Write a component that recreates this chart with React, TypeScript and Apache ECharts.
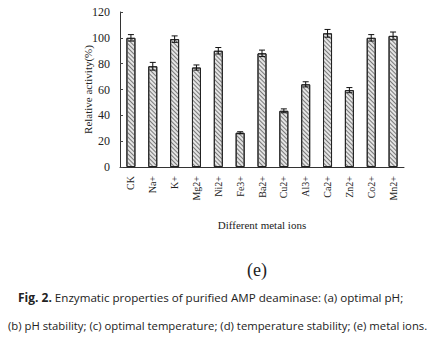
import React, { useEffect, useRef } from "react";
import * as echarts from "echarts";

const categories = ["CK", "Na+", "K+", "Mg2+", "Ni2+", "Fe3+", "Ba2+", "Cu2+", "Al3+", "Ca2+", "Zn2+", "Co2+", "Mn2+"];
const values = [100, 78, 99, 77, 90, 26.5, 88, 43.5, 64, 103.5, 59.5, 100, 101.5];
const errors = [2.5, 3, 2.5, 2, 2.5, 0.8, 2.5, 1.5, 2, 3, 2, 2.5, 3];
const yTicks = [0, 20, 40, 60, 80, 100, 120];

export default function App() {
  const ref = useRef<HTMLDivElement>(null);
  useEffect(() => {
    const chart = echarts.init(ref.current!, null, { renderer: "svg" });
    const serif = "Liberation Serif";
    chart.setOption({
      animation: false,
      backgroundColor: "#fff",
      grid: { left: 120, right: 32, top: 12, bottom: 183 },
      xAxis: {
        type: "category",
        data: categories,
        name: "Different metal ions",
        nameLocation: "middle",
        nameGap: 52,
        nameMoveOverlap: false,
        nameTextStyle: { fontFamily: serif, fontSize: 11, color: "#222" },
        axisLine: { lineStyle: { color: "#333", width: 1 } },
        axisTick: { inside: true, length: 3, lineStyle: { color: "#444" } },
        axisLabel: {
          rotate: 90,
          fontFamily: serif,
          fontSize: 10,
          color: "#222",
          margin: 9,
        },
      },
      yAxis: {
        type: "value",
        min: 0,
        max: yTicks[yTicks.length - 1],
        interval: 20,
        name: "Relative activity(%)",
        nameLocation: "middle",
        nameGap: 27,
        nameMoveOverlap: false,
        nameTextStyle: { fontFamily: serif, fontSize: 11, color: "#222" },
        axisLine: { show: true, lineStyle: { color: "#333", width: 1 } },
        axisTick: { show: true, inside: true, length: 3, lineStyle: { color: "#444" } },
        axisLabel: { fontFamily: serif, fontSize: 12, color: "#222", margin: 10 },
        splitLine: { show: false },
      },
      series: [
        {
          type: "bar",
          data: values,
          barWidth: 9,
          itemStyle: {
            color: "#e4e4e4",
            borderColor: "#222",
            borderWidth: 1,
            decal: {
              symbol: "rect",
              symbolSize: 1,
              dashArrayX: [1, 0],
              dashArrayY: [1, 1.5],
              rotation: Math.PI / 4,
              color: "#7a7a7a",
            },
          },
        },
        {
          type: "custom",
          data: values.map((v, i) => [i, v - errors[i], v + errors[i]]),
          renderItem: (params: any, api: any) => {
            const x = api.value(0);
            const lo = api.coord([x, api.value(1)]);
            const hi = api.coord([x, api.value(2)]);
            const hw = 3;
            const style = { stroke: "#111", lineWidth: 1 };
            return {
              type: "group",
              children: [
                { type: "line", shape: { x1: hi[0], y1: hi[1], x2: lo[0], y2: lo[1] }, style },
                { type: "line", shape: { x1: hi[0] - hw, y1: hi[1], x2: hi[0] + hw, y2: hi[1] }, style },
                { type: "line", shape: { x1: lo[0] - hw, y1: lo[1], x2: lo[0] + hw, y2: lo[1] }, style },
              ],
            };
          },
          z: 10,
        },
      ],
      graphic: [
        {
          type: "text",
          x: 257,
          y: 270,
          style: {
            text: "(e)",
            font: "18px 'Liberation Serif'",
            fill: "#222",
            align: "center",
            verticalAlign: "middle",
          },
        },
        {
          type: "text",
          x: 18,
          y: 297,
          style: {
            text: "{b|Fig. 2.} Enzymatic properties of purified AMP deaminase: (a) optimal pH;",
            rich: {
              b: { fontFamily: "Open Sans", fontWeight: "bold", fontSize: 12, fill: "#222" },
            },
            fontFamily: "Open Sans",
            fontSize: 11.6,
            fill: "#222",
            verticalAlign: "middle",
          },
        },
        {
          type: "text",
          x: 8,
          y: 325,
          style: {
            text: "(b) pH stability; (c) optimal temperature; (d) temperature stability; (e) metal ions.",
            fontFamily: "Open Sans",
            fontSize: 11.3,
            fill: "#222",
            verticalAlign: "middle",
          },
        },
      ],
    });
    return () => chart.dispose();
  }, []);
  return <div ref={ref} style={{ width: 436, height: 350, position: "absolute", left: 0, top: 0 }} />;
}
